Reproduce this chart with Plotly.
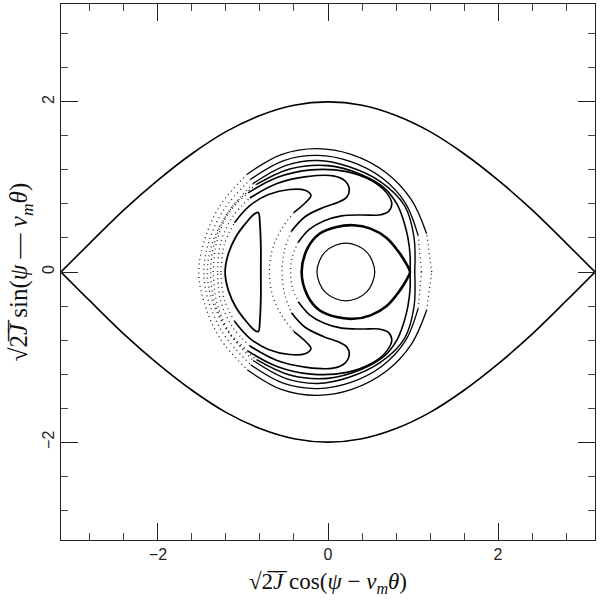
import plotly.graph_objects as go

# Outer separatrix, upper branch (the lower branch is its mirror image in y)
sep_x = [-3.14, -2.8, -2.4, -2.0, -1.6, -1.2, -0.8, -0.4, 0.0, 0.4, 0.8, 1.2, 1.6, 2.0, 2.4, 2.8, 3.14]
sep_y = [0.0, 0.34, 0.73, 1.08, 1.39, 1.65, 1.84, 1.96, 2.0, 1.96, 1.84, 1.65, 1.39, 1.08, 0.73, 0.34, 0.0]

# Section curves: upper halves, each starting and ending on y = 0
# rotating curves (right side -> top -> left side)
ring_a_x = [1.22, 1.16, 0.98, 0.68, 0.28, -0.13, -0.55, -0.95, -1.27, -1.45, -1.52]
ring_a_y = [0.0, 0.45, 0.85, 1.17, 1.38, 1.45, 1.38, 1.15, 0.78, 0.38, 0.0]
ring_b_x = [1.10, 1.06, 0.91, 0.63, 0.26, -0.12, -0.52, -0.91, -1.22, -1.40, -1.46]
ring_b_y = [0.0, 0.43, 0.81, 1.11, 1.30, 1.37, 1.31, 1.09, 0.74, 0.36, 0.0]
ring_c_x = [1.02, 1.01, 0.90, 0.62, 0.24, -0.12, -0.50, -0.88, -1.17, -1.36, -1.42]
ring_c_y = [0.0, 0.42, 0.78, 1.06, 1.24, 1.31, 1.25, 1.04, 0.71, 0.34, 0.0]

# separatrix through the hyperbolic point: outer branch and inner (teardrop) branch
outer_sep_x = [0.965, 0.965, 0.94, 0.89, 0.81, 0.66, 0.38, 0.00, -0.45, -0.84, -1.13, -1.32, -1.38]
outer_sep_y = [0.0, 0.20, 0.40, 0.60, 0.80, 0.99, 1.15, 1.25, 1.21, 1.03, 0.76, 0.40, 0.0]
loop_x = [0.965, 0.93, 0.85, 0.69, 0.50, 0.30, 0.10, -0.10, -0.24, -0.31]
loop_y = [0.0, 0.08, 0.21, 0.40, 0.51, 0.55, 0.53, 0.45, 0.28, 0.0]

# librating curves around the left fixed point (outer left edge -> top -> tip -> inner edge)
lib3_x = [-1.35, -1.31, -1.17, -0.94, -0.60, -0.20, 0.22, 0.52, 0.69, 0.75, 0.71, 0.60, 0.40, 0.16, -0.05, -0.22, -0.35, -0.42, -0.44]
lib3_y = [0.0, 0.35, 0.69, 0.93, 1.11, 1.20, 1.18, 1.07, 0.93, 0.80, 0.71, 0.67, 0.67, 0.66, 0.60, 0.50, 0.35, 0.18, 0.0]
lib2_x = [-1.30, -1.26, -1.12, -0.92, -0.60, -0.25, 0.06, 0.20, 0.25, 0.22, 0.12, -0.05, -0.27, -0.43, -0.51, -0.54]
lib2_y = [0.0, 0.35, 0.65, 0.87, 1.04, 1.12, 1.13, 1.07, 0.97, 0.88, 0.82, 0.76, 0.65, 0.48, 0.26, 0.0]
lib1_x = [-1.26, -1.22, -1.10, -0.92, -0.70, -0.45, -0.27, -0.20, -0.26, -0.40, -0.55, -0.65, -0.69]
lib1_y = [0.0, 0.32, 0.58, 0.78, 0.91, 0.97, 0.96, 0.90, 0.82, 0.70, 0.50, 0.28, 0.0]
banana_x = [-0.79, -0.79, -0.80, -0.82, -0.87, -0.97, -1.08, -1.17, -1.21]
banana_y = [0.0, 0.30, 0.55, 0.70, 0.68, 0.57, 0.42, 0.22, 0.0]

# small curve round the central fixed point
core_x = [0.55, 0.45, 0.21, -0.03, -0.13]
core_y = [0.0, 0.24, 0.34, 0.24, 0.0]

# (x, y, line width, dotted points at the start, dotted points at the end)
curves = [
    (ring_a_x, ring_a_y, 1.3, 1, 3),
    (ring_b_x, ring_b_y, 1.3, 1, 3),
    (ring_c_x, ring_c_y, 1.4, 0, 3),
    (outer_sep_x, outer_sep_y, 1.6, 0, 3),
    (lib3_x, lib3_y, 1.6, 3, 2),
    (lib2_x, lib2_y, 1.7, 3, 2),
    (lib1_x, lib1_y, 1.6, 2, 3),
    (banana_x, banana_y, 1.8, 0, 0),
    (loop_x, loop_y, 2.6, 0, 0),
    (core_x, core_y, 1.2, 0, 0),
]

fig = go.Figure()


def add_line(xs, ys, w, dotted=False):
    line = dict(color="black", width=w, shape="spline", smoothing=1.0)
    if dotted:
        line.update(dash="1px,3.5px", width=1.3, color="#222")
    fig.add_trace(go.Scatter(x=xs, y=ys, mode="lines", line=line,
                             hoverinfo="skip", showlegend=False))


for xs, ys, w, head, tail in curves:
    n = len(xs)
    # whole curve: upper half, then its reflection traced back to the start
    fx = list(xs) + list(xs[-2::-1])
    fy = list(ys) + [-v for v in ys[-2::-1]]
    up_style = [(i < head) or (i >= n - 1 - tail) for i in range(n - 1)]
    style = up_style + up_style[::-1]
    # group equal-style segments into runs
    start = 0
    for k in range(1, len(style) + 1):
        if k == len(style) or style[k] != style[start]:
            add_line(fx[start:k + 1], fy[start:k + 1], w, dotted=style[start])
            start = k

# outer separatrix: upper and lower branches meet at corners on the axis
add_line(sep_x, sep_y, 1.6)
add_line(sep_x, [-v for v in sep_y], 1.6)

axis_common = dict(
    showline=True, linecolor="#222", linewidth=1, mirror="ticks",
    ticks="inside", ticklen=17, tickwidth=1, tickcolor="#222",
    dtick=2, tick0=0, showgrid=False, zeroline=False,
    minor=dict(ticks="inside", ticklen=7, dtick=0.4, tick0=0, tickcolor="#444", tickwidth=1),
    tickfont=dict(family="Liberation Sans", size=16, color="#222"),
)

title_x = "\u221a2\u0305<i>J\u0305</i> cos(<i>\u03c8</i> \u2212 <i>\u03bd<sub>m</sub>\u03b8</i>)"
title_y = "\u221a2\u0305<i>J\u0305</i> sin(<i>\u03c8</i> \u2014 <i>\u03bd<sub>m</sub>\u03b8</i>)"

fig.update_layout(
    width=600, height=611,
    margin=dict(l=61, r=5, t=4, b=71),
    plot_bgcolor="white", paper_bgcolor="white",
    xaxis=dict(range=[-3.14, 3.14], tickvals=[-2, 0, 2], ticktext=["\u22122", "0", "2"],
               title=dict(text=title_x, font=dict(family="Liberation Serif", size=23, color="#111"), standoff=10),
               **axis_common),
    yaxis=dict(range=[-3.15, 3.15], tickvals=[-2, 0, 2], ticktext=["\u22122", "0", "2"], tickangle=-90,
               title=dict(text=title_y, font=dict(family="Liberation Serif", size=25, color="#111"), standoff=4),
               **axis_common),
)

fig.write_html("out.html")
